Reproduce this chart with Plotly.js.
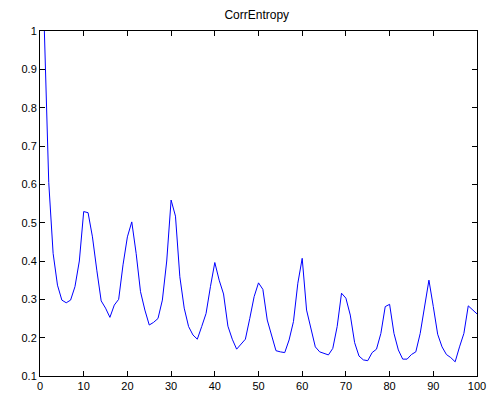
<!DOCTYPE html>
<html>
<head>
<meta charset="utf-8">
<script src="https://cdn.plot.ly/plotly-3.0.1.min.js"></script>
<style>html,body{margin:0;padding:0;background:#fff;}#chart{width:492px;height:394px;}</style>
</head>
<body>
<div id="chart"></div>
<script>
const lags = [];
for (let i = 1; i <= 100; i++) lags.push(i);
const corrEntropy = [
  1.000, 0.605, 0.420, 0.337, 0.298, 0.291, 0.298, 0.333, 0.400, 0.529,
  0.526, 0.463, 0.376, 0.296, 0.277, 0.253, 0.285, 0.300, 0.390, 0.463,
  0.502, 0.420, 0.320, 0.272, 0.233, 0.240, 0.250, 0.298, 0.400, 0.559,
  0.517, 0.359, 0.277, 0.229, 0.207, 0.196, 0.229, 0.263, 0.333, 0.396,
  0.350, 0.314, 0.230, 0.196, 0.170, 0.183, 0.196, 0.250, 0.307, 0.343,
  0.326, 0.246, 0.207, 0.166, 0.163, 0.161, 0.194, 0.242, 0.342, 0.407,
  0.272, 0.220, 0.176, 0.163, 0.159, 0.155, 0.172, 0.229, 0.316, 0.303,
  0.259, 0.187, 0.152, 0.142, 0.140, 0.161, 0.170, 0.211, 0.281, 0.287,
  0.211, 0.168, 0.144, 0.144, 0.156, 0.163, 0.211, 0.281, 0.350, 0.281,
  0.209, 0.176, 0.156, 0.148, 0.137, 0.176, 0.211, 0.283, 0.273, 0.262
];
const chartTitle = "CorrEntropy";

const axisCommon = {
  showgrid: false, zeroline: false, showline: true, linecolor: '#000', linewidth: 1,
  mirror: 'ticks', ticks: 'inside', ticklen: 5, tickcolor: '#000', tickwidth: 1,
  tickfont: {family: 'Liberation Sans, Arial, sans-serif', size: 11, color: '#000'}
};

Plotly.newPlot('chart', [{
  x: lags, y: corrEntropy, type: 'scatter', mode: 'lines',
  line: {color: '#0000ff', width: 1}, hoverinfo: 'none'
}], {
  width: 492, height: 394,
  margin: {l: 40, r: 15, t: 31, b: 18, pad: 0},
  paper_bgcolor: '#fff', plot_bgcolor: '#fff',
  showlegend: false,
  title: {text: chartTitle, font: {family: 'Liberation Sans, Arial, sans-serif', size: 12, color: '#000'},
          x: 0.496, xanchor: 'center', y: 1 - 15/394, yanchor: 'middle', yref: 'container', xref: 'paper'},
  xaxis: Object.assign({}, axisCommon, {range: [0, 100], tick0: 0, dtick: 10, ticklabelstandoff: 0}),
  yaxis: Object.assign({}, axisCommon, {range: [0.1, 1], tick0: 0.1, dtick: 0.1})
}, {staticPlot: true, displayModeBar: false});
</script>
</body>
</html>
